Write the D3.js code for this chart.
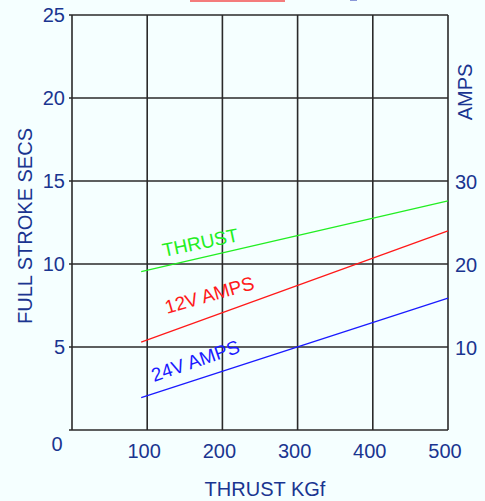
<!DOCTYPE html>
<html lang="en">

<head>
    <meta charset="UTF-8">
    <script src="https://cdn.jsdelivr.net/npm/d3@7/dist/d3.min.js" charset="utf-8"></script>
    <title>Thrust chart</title>
    <style>
        body { margin: 0; background: #f5ffff; }
        text { font-family: "Liberation Sans", Arial, sans-serif; }
    </style>
</head>

<body>
    <script>
        var width = 485;
        var height = 501;
        var margin = { top: 15, right: 37, bottom: 71, left: 72 };

        // data
        var thrustKgf = [92, 500];
        var thrustSecs = [9.54, 13.8];
        var amps12v = [10.6, 24];
        var amps24v = [3.9, 15.9];
        var xTicks = [100, 200, 300, 400, 500];
        var leftTicks = [5, 10, 15, 20, 25];
        var rightTicks = [10, 20, 30];

        var textColor = "#1a3590";
        var gridColor = "#2a2a2a";

        var xScale = d3.scaleLinear().domain([0, 500]).range([margin.left, width - margin.right]);
        var yLeft = d3.scaleLinear().domain([0, 25]).range([height - margin.bottom, margin.top]);
        var yRight = d3.scaleLinear().domain([0, 50]).range([height - margin.bottom, margin.top]);

        var svg = d3.select("body").append("svg").attr("width", width).attr("height", height)
            .style("display", "block");

        svg.append("rect").attr("width", width).attr("height", height).style("fill", "#f5ffff");

        // clipped legend keys at the very top
        svg.append("rect").attr("x", 190).attr("y", -4).attr("width", 95).attr("height", 6).style("fill", "#f47c7c");
        svg.append("rect").attr("x", 350).attr("y", -4).attr("width", 7).attr("height", 5).style("fill", "#8a98d8");

        // grid
        var grid = svg.append("g");
        grid.selectAll("line.v").data([0].concat(xTicks)).enter().append("line")
            .attr("x1", function (d) { return xScale(d); })
            .attr("x2", function (d) { return xScale(d); })
            .attr("y1", yLeft(0)).attr("y2", yLeft(25))
            .style("stroke", gridColor).style("stroke-width", 1.6);
        grid.selectAll("line.h").data([0].concat(leftTicks)).enter().append("line")
            .attr("y1", function (d) { return yLeft(d); })
            .attr("y2", function (d) { return yLeft(d); })
            .attr("x1", xScale(0) - 3).attr("x2", xScale(500))
            .style("stroke", gridColor).style("stroke-width", 1.6);

        // left tick labels
        svg.selectAll("text.yl").data(leftTicks).enter().append("text")
            .attr("x", 65).attr("y", function (d) { return yLeft(d) + 7; })
            .attr("text-anchor", "end").style("font-size", "20px").style("fill", textColor)
            .text(function (d) { return d; });
        svg.append("text").attr("x", 57).attr("y", 451).attr("text-anchor", "middle")
            .style("font-size", "20px").style("fill", textColor).text("0");

        // right tick labels
        svg.selectAll("text.yr").data(rightTicks).enter().append("text")
            .attr("x", 455).attr("y", function (d) { return yRight(d) + 8; })
            .attr("text-anchor", "start").style("font-size", "20px").style("fill", textColor)
            .text(function (d) { return d; });

        // bottom tick labels
        svg.selectAll("text.x").data(xTicks).enter().append("text")
            .attr("x", function (d) { return xScale(d) - 3; }).attr("y", 458)
            .attr("text-anchor", "middle").style("font-size", "20px").style("fill", textColor)
            .text(function (d) { return d; });

        // axis titles
        svg.append("text").attr("x", 265).attr("y", 496).attr("text-anchor", "middle")
            .style("font-size", "20px").style("fill", textColor).text("THRUST KGf");
        svg.append("text").attr("transform", "translate(32,226) rotate(-90)").attr("text-anchor", "middle")
            .style("font-size", "20px").style("fill", textColor).text("FULL STROKE SECS");
        svg.append("text").attr("transform", "translate(472,92) rotate(-90)").attr("text-anchor", "middle")
            .style("font-size", "20px").style("fill", textColor).text("AMPS");

        // series
        var leftLine = d3.line().x(function (d) { return xScale(d[0]); }).y(function (d) { return yLeft(d[1]); });
        var rightLine = d3.line().x(function (d) { return xScale(d[0]); }).y(function (d) { return yRight(d[1]); });

        svg.append("path").attr("d", leftLine(d3.zip(thrustKgf, thrustSecs)))
            .style("fill", "none").style("stroke", "#22ee22").style("stroke-width", 1.3);
        svg.append("path").attr("d", rightLine(d3.zip(thrustKgf, amps12v)))
            .style("fill", "none").style("stroke", "#ff1a1a").style("stroke-width", 1.3);
        svg.append("path").attr("d", rightLine(d3.zip(thrustKgf, amps24v)))
            .style("fill", "none").style("stroke", "#1a1aff").style("stroke-width", 1.3);

        // series labels
        svg.append("text").attr("transform", "translate(164,257) rotate(-12)")
            .style("font-size", "19px").style("fill", "#22ee22").text("THRUST");
        svg.append("text").attr("transform", "translate(167,314) rotate(-16)")
            .style("font-size", "19px").style("fill", "#ff1a1a").text("12V AMPS");
        svg.append("text").attr("transform", "translate(154,382) rotate(-19)")
            .style("font-size", "19px").style("fill", "#1a1aff").text("24V AMPS");
    </script>
</body>

</html>
